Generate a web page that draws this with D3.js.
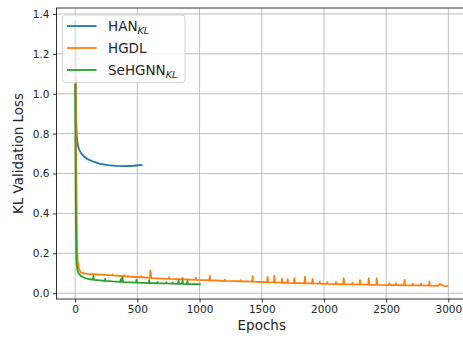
<!DOCTYPE html>
<meta charset="utf-8">
<style>
  body { margin: 0; background: #fff; }
  text { font-family: "DejaVu Sans", sans-serif; fill: #262626; }
</style>
<div id="chart"></div>
<script src="https://d3js.org/d3.v7.min.js"></script>
<script>

// values
var hanEpochs = [0, 3, 6, 10, 13, 20, 32, 50, 72, 100, 153, 200, 260, 330, 400, 470, 541];
var hanLoss   = [1.37, 1.15, 0.95, 0.84, 0.79, 0.745, 0.72, 0.70, 0.685, 0.672, 0.658, 0.649, 0.642, 0.638, 0.637, 0.639, 0.643];

var hgdlEpochs = [0, 5, 10, 15, 20, 30, 45, 70, 100, 150, 200, 296, 300, 304, 390, 394, 398, 524, 528, 532,
  600, 605, 612, 752, 756, 760, 859, 863, 867, 966, 970, 974, 1079, 1083, 1088, 1200, 1204, 1208,
  1330, 1334, 1338, 1422, 1426, 1431, 1543, 1547, 1551, 1597, 1601, 1606, 1659, 1663, 1667,
  1704, 1708, 1712, 1758, 1762, 1766, 1844, 1848, 1853, 1905, 1909, 1913, 1963, 1967, 1971,
  2023, 2027, 2031, 2093, 2097, 2101, 2155, 2159, 2164, 2225, 2229, 2233, 2286, 2290, 2294,
  2356, 2360, 2365, 2420, 2424, 2429, 2522, 2526, 2530, 2576, 2580, 2584, 2643, 2647, 2652,
  2710, 2714, 2718, 2777, 2781, 2785, 2844, 2848, 2852, 2920, 2928, 2940, 2960, 3000];
var hgdlLoss = [1.25, 1.0, 0.6, 0.26, 0.16, 0.125, 0.105, 0.1, 0.097, 0.095, 0.093, 0.089, 0.094, 0.089, 0.085, 0.09, 0.085, 0.08, 0.086, 0.08,
  0.077, 0.113, 0.076, 0.072, 0.08, 0.072, 0.07, 0.078, 0.07, 0.067, 0.078, 0.067, 0.065, 0.087, 0.065, 0.062, 0.068, 0.062,
  0.06, 0.066, 0.06, 0.058, 0.085, 0.058, 0.055, 0.082, 0.055, 0.054, 0.087, 0.054, 0.053, 0.072, 0.053,
  0.052, 0.07, 0.052, 0.051, 0.075, 0.051, 0.05, 0.083, 0.05, 0.049, 0.072, 0.049, 0.048, 0.058, 0.048,
  0.047, 0.056, 0.047, 0.046, 0.055, 0.046, 0.045, 0.075, 0.045, 0.044, 0.052, 0.044, 0.044, 0.066, 0.044,
  0.043, 0.075, 0.043, 0.042, 0.075, 0.042, 0.041, 0.05, 0.041, 0.041, 0.05, 0.041, 0.04, 0.067, 0.04,
  0.039, 0.048, 0.039, 0.039, 0.048, 0.039, 0.038, 0.058, 0.038, 0.037, 0.046, 0.044, 0.037, 0.036];

var sehEpochs = [0, 3, 6, 10, 15, 20, 30, 50, 80, 120, 143, 147, 151, 200, 237, 241, 245, 300, 363, 367, 371,
  376, 380, 385, 450, 489, 493, 497, 591, 595, 599, 658, 662, 666, 730, 734, 738, 780, 784, 788,
  827, 831, 835, 859, 863, 867, 899, 903, 907, 950, 1010];
var sehLoss = [1.05, 0.62, 0.32, 0.17, 0.13, 0.112, 0.097, 0.085, 0.076, 0.07, 0.068, 0.087, 0.067, 0.064, 0.062, 0.072, 0.062, 0.059, 0.057, 0.07, 0.057,
  0.057, 0.08, 0.056, 0.054, 0.053, 0.068, 0.053, 0.051, 0.066, 0.051, 0.05, 0.056, 0.05, 0.049, 0.055, 0.049, 0.048, 0.054, 0.048,
  0.047, 0.065, 0.047, 0.047, 0.065, 0.047, 0.046, 0.062, 0.046, 0.046, 0.045];

var xTicks = [0, 500, 1000, 1500, 2000, 2500, 3000];
var yTicks = [0.0, 0.2, 0.4, 0.6, 0.8, 1.0, 1.2, 1.4];

var series = [
  {name: "HAN", sub: "KL", color: "#1f77b4", x: hanEpochs, y: hanLoss},
  {name: "HGDL", sub: "", color: "#ff7f0e", x: hgdlEpochs, y: hgdlLoss},
  {name: "SeHGNN", sub: "KL", color: "#2ca02c", x: sehEpochs, y: sehLoss}
];

var W = 463, H = 339;
var margin = {top: 8, right: -4, bottom: 40, left: 56.5},
    width = W - margin.left - margin.right,
    height = H - margin.top - margin.bottom;

var svg = d3.select("#chart").append("svg")
    .attr("width", W)
    .attr("height", H);

var g = svg.append("g")
    .attr("transform", "translate(" + margin.left + "," + margin.top + ")");

var x = d3.scaleLinear().domain([-150, 3150]).range([0, width]);
var y = d3.scaleLinear().domain([-0.029, 1.43]).range([height, 0]);

// grid
g.append("g").selectAll("line").data(xTicks).enter().append("line")
    .attr("x1", function(d) { return x(d); }).attr("x2", function(d) { return x(d); })
    .attr("y1", 0).attr("y2", height)
    .attr("stroke", "#b0b0b0").attr("stroke-width", 0.8);
g.append("g").selectAll("line").data(yTicks).enter().append("line")
    .attr("y1", function(d) { return y(d); }).attr("y2", function(d) { return y(d); })
    .attr("x1", 0).attr("x2", width)
    .attr("stroke", "#b0b0b0").attr("stroke-width", 0.8);

// axes
var xAxis = g.append("g")
    .attr("transform", "translate(0," + height + ")")
    .call(d3.axisBottom(x).tickValues(xTicks).tickSize(3.5).tickPadding(3.5).tickFormat(d3.format("d")));
var yAxis = g.append("g")
    .call(d3.axisLeft(y).tickValues(yTicks).tickSize(3.5).tickPadding(3.5).tickFormat(d3.format(".1f")));
[xAxis, yAxis].forEach(function(a) {
  a.select(".domain").remove();
  a.selectAll("line").attr("stroke", "#000").attr("stroke-width", 0.8);
  a.selectAll("text").attr("font-size", 10.5).attr("font-family", "DejaVu Sans").attr("fill", "#262626");
});

// lines
g.append("clipPath").attr("id", "clip").append("rect")
    .attr("width", width).attr("height", height);

var line = d3.line()
    .x(function(d) { return x(d[0]); })
    .y(function(d) { return y(d[1]); });

g.append("g").attr("clip-path", "url(#clip)")
  .selectAll("path").data(series).enter().append("path")
    .attr("d", function(s) { return line(d3.zip(s.x, s.y)); })
    .attr("fill", "none")
    .attr("stroke", function(s) { return s.color; })
    .attr("stroke-width", 1.8)
    .attr("stroke-linejoin", "round");

// frame
g.append("rect")
    .attr("width", width).attr("height", height)
    .attr("fill", "none").attr("stroke", "#000").attr("stroke-width", 0.8);

// labels
svg.append("text")
    .attr("x", margin.left + x(1500)).attr("y", 330)
    .attr("text-anchor", "middle").attr("font-size", 13.5)
    .text("Epochs");
svg.append("text")
    .attr("transform", "translate(23," + (margin.top + height / 2) + ")rotate(-90)")
    .attr("text-anchor", "middle").attr("font-size", 13.5)
    .text("KL Validation Loss");

// legend
var leg = svg.append("g").attr("transform", "translate(62.5,15)");
leg.append("rect")
    .attr("width", 122.5).attr("height", 67.5).attr("rx", 3)
    .attr("fill", "#fff").attr("fill-opacity", 0.8)
    .attr("stroke", "#cccccc").attr("stroke-width", 0.8);
var items = leg.selectAll("g.item").data(series).enter().append("g")
    .attr("class", "item")
    .attr("transform", function(d, i) { return "translate(0," + (11 + i * 22) + ")"; });
items.append("line")
    .attr("x1", 4.5).attr("x2", 34)
    .attr("stroke", function(d) { return d.color; }).attr("stroke-width", 1.8);
var t = items.append("text")
    .attr("x", 45.5).attr("y", 5).attr("font-size", 13.5);
t.append("tspan").text(function(d) { return d.name; });
t.append("tspan")
    .attr("dy", 3).attr("font-size", 9.5).attr("font-style", "italic")
    .text(function(d) { return d.sub; });

</script>
